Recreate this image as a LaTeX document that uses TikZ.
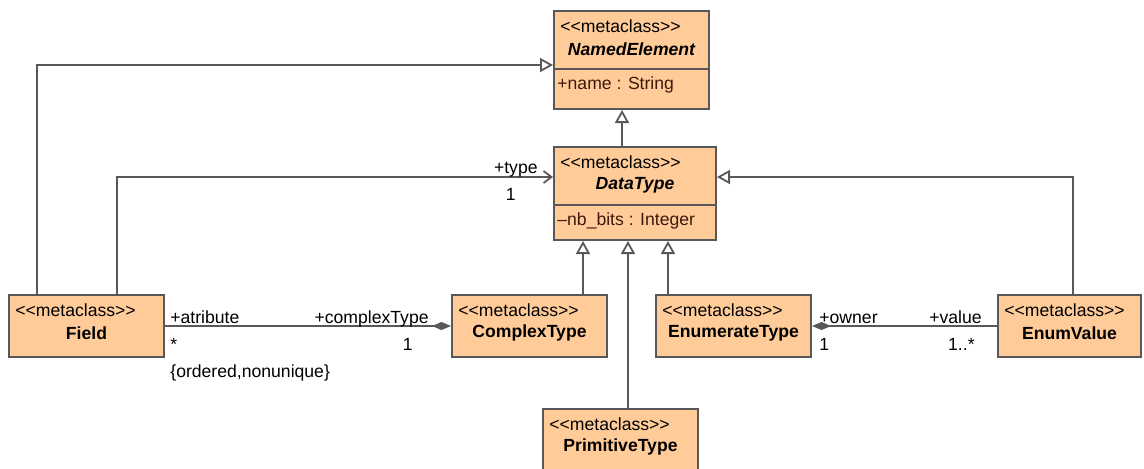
\documentclass[tikz,border=0pt]{standalone}
\usepackage{fontspec}
\setmainfont{Liberation Sans}
\usetikzlibrary{arrows.meta,positioning,calc}
\definecolor{classfill}{RGB}{255,204,153}
\definecolor{classline}{RGB}{88,88,88}
\definecolor{attrtext}{RGB}{62,24,10}
\tikzset{
  metacls/.style={draw=classline,fill=classfill,line width=1pt,inner sep=0pt,
                  anchor=north west},
  txt/.style={inner sep=0pt,font=\fontsize{8.8}{10.5}\selectfont},
  stereo/.style={txt,anchor=west},
  clsname/.style={txt,font=\fontsize{8.8}{10.5}\selectfont\bfseries},
  attr/.style={txt,anchor=west,text=attrtext},
  role/.style={txt},
  gen/.style={-{Triangle[open,length=6.5pt,width=7pt]},draw=classline,line width=.9pt},
  nav/.style={-{Straight Barb[length=4pt,width=6pt]},draw=classline,line width=.9pt},
  comp/.style={{Diamond[length=9.5pt,width=4pt]}-,draw=classline,line width=.9pt},
}
\begin{document}
\begin{tikzpicture}[x=0.5pt,y=-0.5pt]
  \useasboundingbox (0,0) rectangle (1144,468);
  % classes
  \node[metacls,minimum width=77.5pt,minimum height=49pt] (named) at (553,10) {};
  \node[metacls,minimum width=81pt,minimum height=46.5pt] (datatype) at (553,146) {};
  \node[metacls,minimum width=77.5pt,minimum height=31pt] (field) at (8,294) {};
  \node[metacls,minimum width=77.5pt,minimum height=31pt] (complex) at (451,294) {};
  \node[metacls,minimum width=77.5pt,minimum height=31pt] (enumerate) at (655,294) {};
  \node[metacls,minimum width=71.5pt,minimum height=31pt] (enumvalue) at (997,294) {};
  \node[metacls,minimum width=77.5pt,minimum height=31pt] (primitive) at (542,408) {};
  \foreach \c in {named,datatype}{
    \draw[classline,line width=1pt] ([yshift=-29.5pt]\c.north west) -- ([yshift=-29.5pt]\c.north east);}
  \foreach \c in {named,datatype,field,complex,enumerate,enumvalue,primitive}{
    \node[stereo] (\c-st) at ([xshift=3.5pt,yshift=-8pt]\c.north west) {<{}<metaclass>{}>};}
  \node[clsname,font=\fontsize{8.8}{10.5}\selectfont\bfseries\itshape] (named-nm)
    at ([yshift=-19.5pt]named.north) {NamedElement};
  \node[clsname,font=\fontsize{8.8}{10.5}\selectfont\bfseries\itshape] (datatype-nm)
    at ([yshift=-19.5pt]datatype.north) {DataType};
  \node[clsname] (field-nm) at ([yshift=-19.5pt]field.north) {Field};
  \node[clsname] (complex-nm) at ([yshift=-19.5pt]complex.north) {ComplexType};
  \node[clsname] (enumerate-nm) at ([yshift=-19.5pt]enumerate.north) {EnumerateType};
  \node[clsname] (enumvalue-nm) at ([yshift=-19.5pt]enumvalue.north) {EnumValue};
  \node[clsname] (primitive-nm) at ([yshift=-19.5pt]primitive.north) {PrimitiveType};
  \node[attr] (named-at) at ([xshift=2pt,yshift=-37.5pt]named.north west) {+name : String};
  \node[attr] (datatype-at) at ([xshift=2pt,yshift=-37.5pt]datatype.north west) {–nb\_bits : Integer};
  % generalizations
  \draw[gen] ([xshift=14.5pt]field.north west) |- ([yshift=-2.5pt]named.west);
  \coordinate (up) at ([xshift=34.5pt]datatype.north west);
  \draw[gen] (up) -- (up |- named.south);
  \foreach \n/\dx in {complex/15pt,primitive/37.5pt,enumerate/57.5pt}{
    \coordinate (sub) at ([xshift=\dx]datatype.south west);
    \draw[gen] (sub |- \n.north) -- (sub);}
  \draw[gen] ([xshift=38pt]enumvalue.north west) |- ([yshift=8.25pt]datatype.east);
  % associations
  \draw[nav] ([xshift=54.5pt]field.north west) |- ([yshift=8.25pt]datatype.west);
  \node[role,anchor=base east] (type-role) at ([xshift=-7.5pt,yshift=10.25pt]datatype.west) {+type};
  \node[role,anchor=north east] (type-mult) at ([xshift=-18.5pt,yshift=3pt]datatype.west) {1};
  \draw[comp] (complex.west) -- (field.east);
  \node[role,anchor=base west] (atr-role) at ([xshift=2.5pt,yshift=1.5pt]field.east) {+atribute};
  \node[role,anchor=north west] (atr-mult) at ([xshift=2.5pt,yshift=-6pt]field.east) {*};
  \node[role,anchor=north west] (atr-cons) at ([xshift=2.5pt,yshift=-19pt]field.east)
    {\{ordered,nonunique\}};
  \node[role,anchor=base east] (ctype-role) at ([xshift=-11pt,yshift=1.5pt]complex.west) {+complexType};
  \node[role,anchor=north east] (ctype-mult) at ([xshift=-19pt,yshift=-6pt]complex.west) {1};
  \draw[comp] (enumerate.east) -- (enumvalue.west);
  \node[role,anchor=base west] (own-role) at ([xshift=3.5pt,yshift=1.5pt]enumerate.east) {+owner};
  \node[role,anchor=north west] (own-mult) at ([xshift=3.5pt,yshift=-6pt]enumerate.east) {1};
  \node[role,anchor=base east] (val-role) at ([xshift=-7.5pt,yshift=1.5pt]enumvalue.west) {+value};
  \node[role,anchor=north east] (val-mult) at ([xshift=-11pt,yshift=-6pt]enumvalue.west) {1..*};
\end{tikzpicture}
\end{document}
